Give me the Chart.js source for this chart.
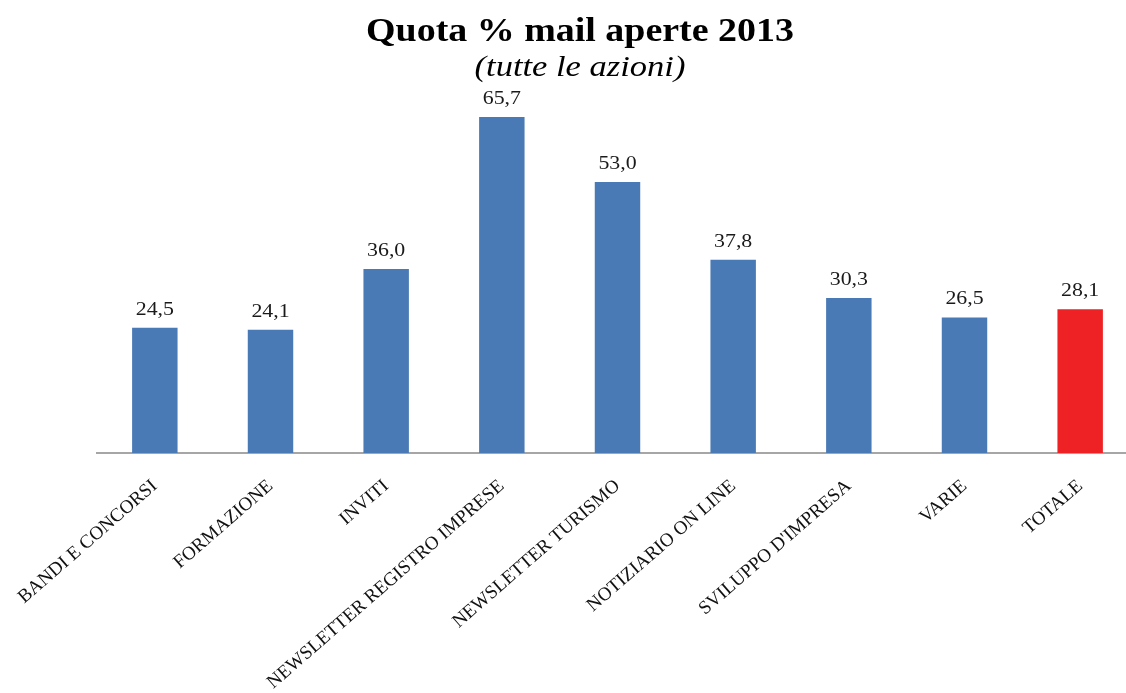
<!DOCTYPE html>
<html>
<head>
<meta charset="utf-8">
<script src="https://cdn.jsdelivr.net/npm/chart.js@4/dist/chart.umd.min.js"></script>
<style>
  html, body { margin: 0; padding: 0; background: #fff; overflow: hidden; }
  /* the axis runs off the right edge in the original, so the canvas is a bit wider than the window */
  #wrap { width: 1138px; height: 693px; }
</style>
</head>
<body>
<div id="wrap"><canvas id="chart"></canvas></div>
<script>
// data
const categories = ['BANDI E CONCORSI', 'FORMAZIONE', 'INVITI', 'NEWSLETTER REGISTRO IMPRESE',
  'NEWSLETTER TURISMO', 'NOTIZIARIO ON LINE', 'SVILUPPO D\'IMPRESA', 'VARIE', 'TOTALE'];
const quota = [24.5, 24.1, 36.0, 65.7, 53.0, 37.8, 30.3, 26.5, 28.1];
const titleText = 'Quota % mail aperte 2013';
const subtitleText = '(tutte le azioni)';

const serif = '"Liberation Serif", "Times New Roman", serif';
const stretch = 1.15; // the original text is a little wide

function wideText(ctx, text, x, y) {
  ctx.save();
  ctx.translate(x, y);
  ctx.scale(stretch, 1);
  ctx.fillText(text, 0, 0);
  ctx.restore();
}

// titles + value labels drawn by hand
const decorations = {
  id: 'decorations',
  afterDatasetsDraw(chart) {
    const ctx = chart.ctx;
    ctx.save();
    ctx.fillStyle = '#000';
    ctx.textAlign = 'center';
    ctx.textBaseline = 'alphabetic';
    ctx.font = 'bold 33px ' + serif;
    wideText(ctx, titleText, 580, 41);
    ctx.font = 'italic 30px ' + serif;
    wideText(ctx, subtitleText, 580, 76);

    ctx.font = '19px ' + serif;
    ctx.fillStyle = '#1a1a1a';
    chart.getDatasetMeta(0).data.forEach((bar, i) => {
      wideText(ctx, quota[i].toFixed(1).replace('.', ','), bar.x, bar.y - 13);
    });
    ctx.restore();
  }
};

new Chart(document.getElementById('chart'), {
  type: 'bar',
  data: {
    labels: categories,
    datasets: [{
      data: quota,
      backgroundColor: c => categories[c.dataIndex] === 'TOTALE' ? '#ee2224' : '#4a7ab5',
      categoryPercentage: 1,
      barPercentage: 0.393
    }]
  },
  options: {
    responsive: true,
    maintainAspectRatio: false,
    animation: false,
    layout: { padding: { left: 97, right: 0, top: 95, bottom: 0 } },
    plugins: {
      legend: { display: false },
      tooltip: { enabled: false }
    },
    scales: {
      x: {
        grid: { display: false },
        border: { display: true, color: '#a6a6a6', width: 2 },
        ticks: {
          color: '#111',
          font: { family: serif, size: 19 },
          minRotation: 41,
          maxRotation: 41,
          autoSkip: false,
          padding: 14
        },
        afterFit: s => { s.height = 240; }
      },
      y: {
        display: false,
        min: 0,
        max: 70
      }
    }
  },
  plugins: [decorations]
});
</script>
</body>
</html>
